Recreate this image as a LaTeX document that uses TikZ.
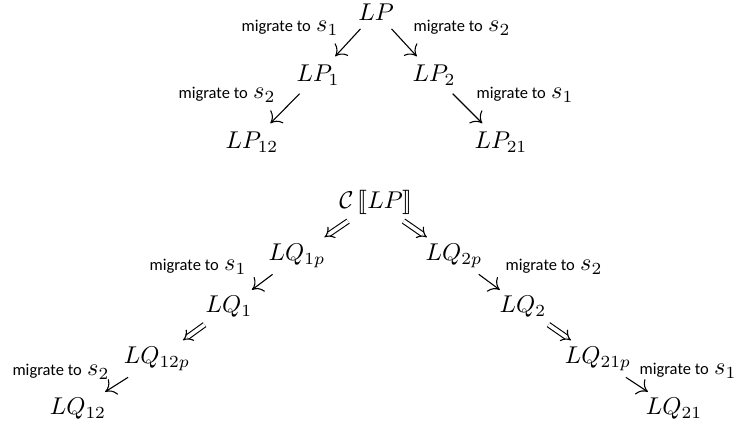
\documentclass[tikz,border=0pt]{standalone}
\usepackage{fontspec}
\usepackage{stmaryrd}
\newfontfamily\lblfont{Carlito}
\newcommand\migto[1]{{\lblfont\fontsize{6.8}{8}\selectfont migrate to}\hspace{2.2pt}$s_{#1}$}
\usetikzlibrary{arrows.meta}
\begin{document}
\begin{tikzpicture}[x=0.412pt,y=-0.412pt,
  lbl/.style={inner sep=0pt},
  bot/.style={inner sep=2.5pt},
  sar/.style={-{To[length=4pt,width=7.5pt]}, line width=0.45pt},
  dar/.style={double, double distance=1.5pt, line width=0.45pt, -{Implies[scale=1.25]}, shorten <=0.3pt, shorten >=0.3pt}]
\useasboundingbox (0,0) rectangle (743,424);
% top tree
\node (lp)   at (376,12)  {$LP$};
\node (lp1)  at (318,75)  {$LP_1$};
\node (lp2)  at (434,75)  {$LP_2$};
\node (lp12) at (252,142) {$LP_{12}$};
\node (lp21) at (501,142) {$LP_{21}$};
\node[lbl] (t1) at (290,28) {\migto{1}};
\node[lbl] (t2) at (462,28) {\migto{2}};
\node[lbl] (t3) at (227,95) {\migto{2}};
\node[lbl] (t4) at (525,95) {\migto{1}};
\draw[sar] (lp) -- (lp1);
\draw[sar] (lp) -- (lp2);
\draw[sar] (lp1) -- (lp12);
\draw[sar] (lp2) -- (lp21);
% bottom tree
\node[bot] (c)     at (376,202) {$\mathcal{C}\left\llbracket LP\right\rrbracket$};
\node[bot] (lq1p)  at (297,256) {$LQ_{1p}$};
\node[bot] (lq2p)  at (454,256) {$LQ_{2p}$};
\node[bot] (lq1)   at (229,307) {$LQ_1$};
\node[bot] (lq2)   at (523,307) {$LQ_2$};
\node[bot] (lq12p) at (157,359) {$LQ_{12p}$};
\node[bot] (lq21p) at (598,359) {$LQ_{21p}$};
\node[bot] (lq12)  at (78,409)  {$LQ_{12}$};
\node[bot] (lq21)  at (674,409) {$LQ_{21}$};
\node[lbl] (b1) at (198,267) {\migto{1}};
\node[lbl] (b2) at (554,267) {\migto{2}};
\node[lbl] (b3) at (61,372)  {\migto{2}};
\node[lbl] (b4) at (688,371) {\migto{1}};
\draw[dar] (c) -- (lq1p);
\draw[dar] (c) -- (lq2p);
\draw[sar] (lq1p) -- (lq1);
\draw[sar] (lq2p) -- (lq2);
\draw[dar] (lq1) -- (lq12p);
\draw[dar] (lq2) -- (lq21p);
\draw[sar] (lq12p) -- (lq12);
\draw[sar] (lq21p) -- (lq21);
\end{tikzpicture}
\end{document}
